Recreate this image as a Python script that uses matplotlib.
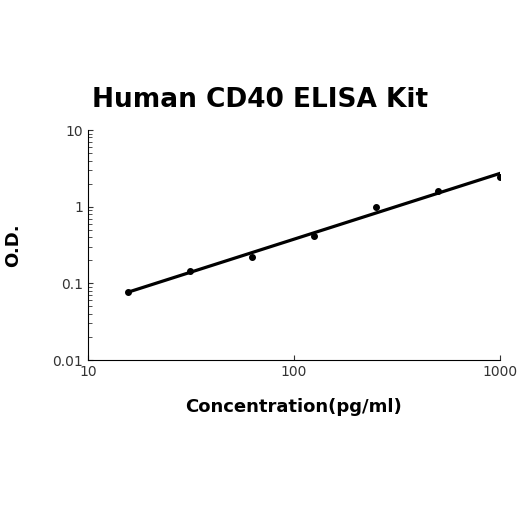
import matplotlib
matplotlib.use("Agg")
import matplotlib.pyplot as plt
import numpy as np

conc = [15.6, 31.25, 62.5, 125, 250, 500, 1000]
od = [0.078, 0.145, 0.22, 0.42, 1.0, 1.6, 2.45]

fig = plt.figure(figsize=(5.2, 5.2), dpi=100)
ax = fig.add_axes([88/520, 1-360/520, 412/520, 230/520])
ax.set_xscale('log'); ax.set_yscale('log')
ax.set_xlim(10, 1000); ax.set_ylim(0.01, 10)
ax.scatter(conc, od, s=16, color='black', zorder=3)
b, a = np.polyfit(np.log10(conc), np.log10(od), 1)
xs = np.logspace(np.log10(conc[0]), np.log10(conc[-1]), 50)
ax.plot(xs, 10**(a + b*np.log10(xs)), color='black', lw=2.3)
for s in ['top', 'right']:
    ax.spines[s].set_visible(False)
ax.set_xticks([10, 100, 1000]); ax.set_xticklabels(['10', '100', '1000'])
ax.set_yticks([0.01, 0.1, 1, 10]); ax.set_yticklabels(['0.01', '0.1', '1', '10'])
ax.tick_params(labelsize=10, direction='in', which='both', colors='#333333')
ax.tick_params(axis='x', which='minor', length=0)
ax.tick_params(axis='y', which='minor', length=3)
ax.set_xlabel('Concentration(pg/ml)', fontsize=13, fontweight='bold', labelpad=14)
ax.set_ylabel('O.D.', fontsize=13, fontweight='bold', labelpad=22)
fig.text(0.5, 1-100/520, 'Human CD40 ELISA Kit', ha='center', va='center', fontsize=19, fontweight='bold')
fig.savefig('out.png', dpi=100)
